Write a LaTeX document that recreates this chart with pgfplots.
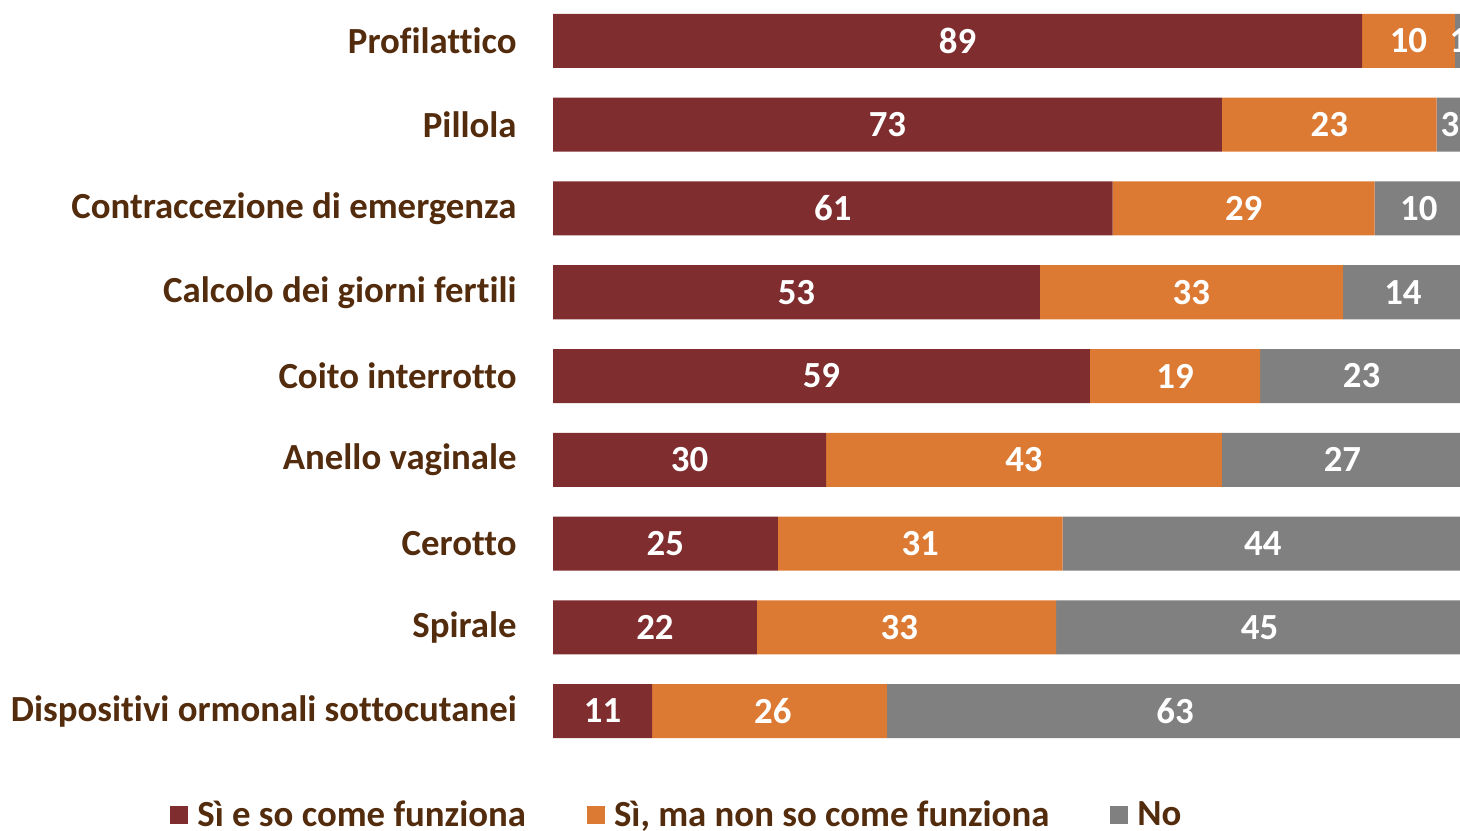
\documentclass[border=0pt]{standalone}
\usepackage{pgfplots}
\pgfplotsset{compat=1.18}
\usepackage{fontspec}
\setmainfont{Carlito}[Ligatures=NoCommon]
\definecolor{cA}{HTML}{7F2D2F}
\definecolor{cB}{HTML}{DC7A34}
\definecolor{cC}{HTML}{808080}
\definecolor{txt}{HTML}{532B0D}
\newcommand{\lblfont}{\bfseries\fontsize{18.4}{20}\selectfont}
\begin{document}
\begin{tikzpicture}[x=1pt,y=1pt]
\clip (0,0) rectangle (730,415);
\pgfplotsset{
  common/.style={
    at={(276.5pt,415.45pt)}, anchor=north west,
    scale only axis, width=455pt, height=376.9pt,
    xmin=0, xmax=100, ymin=-0.5, ymax=8.5, y dir=reverse,
    axis line style={draw=none}, tick style={draw=none},
    xtick=\empty,
  }
}
\begin{axis}[common,
  xbar stacked, bar width=27pt,
  ytick={0,...,8},
  yticklabels={Profilattico,Pillola,Contraccezione di emergenza,Calcolo dei giorni fertili,Coito interrotto,Anello vaginale,Cerotto,Spirale,Dispositivi ormonali sottocutanei},
  yticklabel style={font=\lblfont, text=txt, inner sep=0pt, xshift=-18pt},
  legend columns=3,
  legend style={at={(axis description cs:-0.4209,-0.0824)}, anchor=west, draw=none, fill=none,
    font=\lblfont, text=txt, inner sep=0pt,
    /tikz/every even column/.append style={column sep=26pt},
    nodes={inner xsep=4.5pt, inner ysep=1pt}},
  legend image code/.code={\fill[#1] (0pt,-4.5pt) rectangle (9pt,4.5pt);},
]
\addplot[fill=cA, draw=none] coordinates {(88.9,0) (73.5,1) (61.5,2) (53.5,3) (59.0,4) (30.0,5) (24.7,6) (22.4,7) (10.9,8)};
\addplot[fill=cB, draw=none] coordinates {(10.2,0) (23.6,1) (28.8,2) (33.3,3) (18.7,4) (43.5,5) (31.3,6) (32.9,7) (25.8,8)};
\addplot[fill=cC, draw=none] coordinates {(0.9,0) (2.9,1) (9.7,2) (13.2,3) (22.3,4) (26.5,5) (44.0,6) (44.7,7) (63.3,8)};
\legend{Sì e so come funziona, {Sì, ma non so come funziona}, No}
\end{axis}
\begin{axis}[common, ytick=\empty]
\addplot[draw=none, mark=none, nodes near coords, point meta=explicit symbolic,
  nodes near coords style={anchor=center, text=white, font=\lblfont, inner sep=0pt}]
  coordinates {
  (44.45,0)[89] (94.0,0)[10] (99.55,0)[1]
  (36.75,1)[73] (85.3,1)[23] (98.55,1)[3]
  (30.75,2)[61] (75.9,2)[29] (95.15,2)[10]
  (26.75,3)[53] (70.15,3)[33] (93.4,3)[14]
  (29.5,4)[59] (68.35,4)[19] (88.85,4)[23]
  (15.0,5)[30] (51.75,5)[43] (86.75,5)[27]
  (12.35,6)[25] (40.35,6)[31] (78.0,6)[44]
  (11.2,7)[22] (38.05,7)[33] (77.65,7)[45]
  (5.45,8)[11] (24.15,8)[26] (68.35,8)[63]
  };
\end{axis}
\end{tikzpicture}
\end{document}
